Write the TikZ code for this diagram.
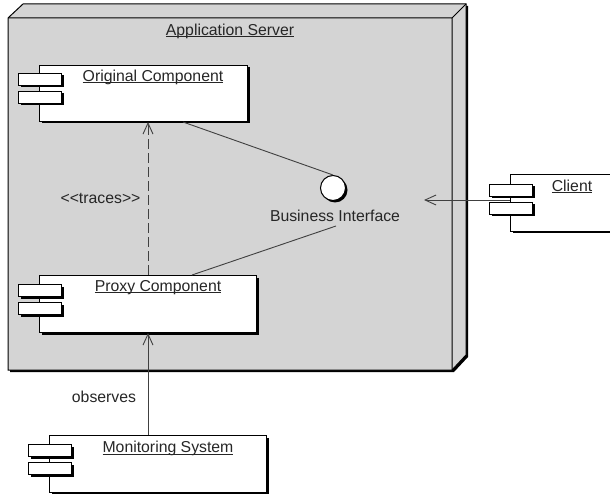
\documentclass[tikz,border=0pt]{standalone}
\usepackage{fontspec}
\setmainfont{Liberation Sans}[Ligatures=TeXOff]
\usetikzlibrary{arrows.meta,shadows}
\definecolor{nodegray}{RGB}{212,212,212}
% underline that runs just below the baseline, through the descenders
\newcommand\ulbl[1]{\setbox0=\hbox{#1}\rlap{\vrule height -1pt depth 2pt width \wd0}\box0}
\begin{document}
\begin{tikzpicture}[x=1pt,y=-1pt,
  lbl/.style={font=\fontsize{15.8}{18}\selectfont, text=black!85, inner sep=0pt, anchor=base},
  boxshadow/.style={general shadow={fill=black, shadow xshift=2pt, shadow yshift=-2pt}},
  body/.style={draw=black, fill=white, line width=1pt, anchor=north west, inner sep=0pt, boxshadow},
  port/.style={draw=black, fill=white, line width=1pt, anchor=north west, inner sep=0pt,
    minimum width=43pt, minimum height=12pt, boxshadow},
  conn/.style={draw=black!75, line width=0.9pt},
  opentip/.style={-{Straight Barb[length=11pt,width=10pt,line width=0.9pt]}}]
\useasboundingbox (0,0) rectangle (610,494);

% application server node (3D box with shadow)
\fill[black] (10,20) -- (25,6) -- (468,6) -- (468,357) -- (454,372) -- (10,372) -- cycle;
\filldraw[fill=nodegray, draw=black, line width=1pt]
  (8,18) -- (23,4) -- (466,4) -- (466,355) -- (452,370) -- (8,370) -- cycle;
\draw[line width=1pt] (8,18) -- (452,18) -- (466,4) (452,18) -- (452,370);
\node[lbl] (srvlbl) at (230,35.5) {\ulbl{Application Server}};

% components
\node[body, minimum width=208pt, minimum height=56pt] (orig) at (39,65) {};
\node[port] (orig-p1) at (18,73) {};
\node[port] (orig-p2) at (18,91) {};
\node[lbl] (origlbl) at (153,81.5) {\ulbl{Original Component}};

\node[body, minimum width=217pt, minimum height=57pt] (proxy) at (39,275) {};
\node[port] (proxy-p1) at (18,284) {};
\node[port] (proxy-p2) at (18,302) {};
\node[lbl] (proxylbl) at (158,291) {\ulbl{Proxy Component}};

\node[body, minimum width=217pt, minimum height=57pt] (mon) at (49,435) {};
\node[port] (mon-p1) at (28,444) {};
\node[port] (mon-p2) at (28,462) {};
\node[lbl] (monlbl) at (168,452.5) {\ulbl{Monitoring System}};

\node[body, minimum width=102pt, minimum height=57pt] (client) at (510,174) {};
\node[lbl] (clientlbl) at (572,191.5) {\ulbl{Client}};

% interface lollipop
\node[circle, draw=black, fill=white, line width=1pt, minimum size=25pt, inner sep=0pt, boxshadow]
  (iface) at (333,188) {};
\node[lbl] (ifacelbl) at (335,221.5) {Business Interface};

% connectors
\coordinate (iface-low) at (336,226);
\coordinate (cl-tip) at (424,200);
\draw[conn] ([xshift=144pt]orig.south west) -- (iface.north);
\draw[conn] ([xshift=153pt]proxy.north west) -- (iface-low);
\draw[conn, opentip] (client.west |- cl-tip) -- (cl-tip);
\draw[conn, dash pattern=on 10pt off 4pt, opentip]
  ([xshift=109pt]proxy.north west) -- ([xshift=109pt]orig.south west);
\draw[conn, opentip] ([xshift=99pt]mon.north west) -- ([xshift=109pt]proxy.south west);

% client ports drawn over the arrow line
\node[port] (client-p1) at (489,184) {};
\node[port] (client-p2) at (489,202) {};

\node[lbl] (traceslbl) at (100.5,204) {<<traces>>};
\node[lbl] (obslbl) at (104,402) {observes};
\end{tikzpicture}
\end{document}
